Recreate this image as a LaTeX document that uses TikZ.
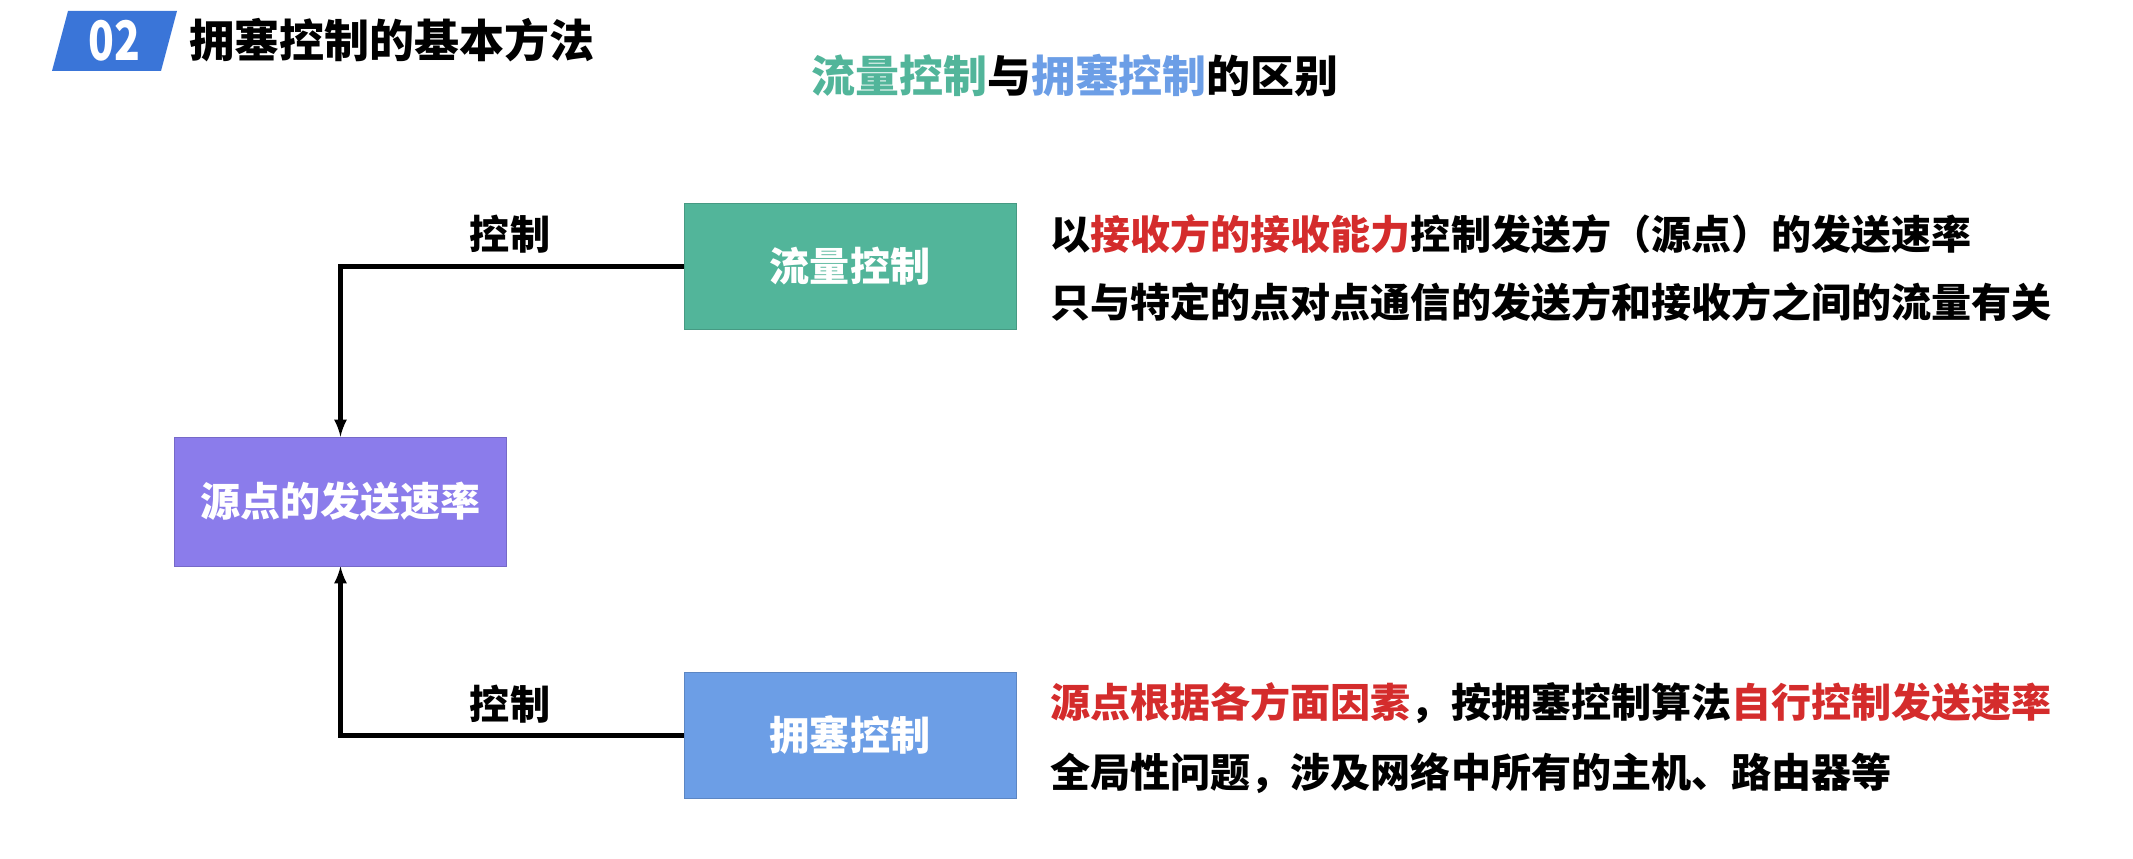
\documentclass[tikz,border=0pt]{standalone}
\usepackage{xcolor}
\usepackage{fontspec}
\setmainfont{Noto Sans CJK SC}
\usepackage{tikz}
\usetikzlibrary{arrows,positioning,backgrounds}
\pgfdeclarelayer{edgelayer}
\pgfdeclarelayer{nodelayer}
\pgfsetlayers{background,edgelayer,nodelayer,main}
\definecolor{flowgreen}{RGB}{82,181,154}
\definecolor{jamblue}{RGB}{108,158,230}
\definecolor{ratepurple}{RGB}{139,124,235}
\definecolor{badgeblue}{RGB}{58,117,216}
\definecolor{keyred}{RGB}{212,44,44}
\newcommand{\bigcjk}{\fontsize{22.8}{27}\selectfont\bfseries}
\tikzstyle{none}=[inner sep=0mm]
\tikzstyle{box}=[shape=rectangle,minimum width=6.64cm,minimum height=2.52cm,inner sep=0pt,text=white,font=\bigcjk]
\tikzstyle{gbox}=[box,fill=flowgreen,draw=flowgreen!85!black]
\tikzstyle{bbox}=[box,fill=jamblue,draw=jamblue!85!black]
\tikzstyle{pbox}=[box,fill=ratepurple,draw=ratepurple!85!black,minimum height=2.58cm]
\tikzstyle{lbl}=[none,font=\bigcjk]
\tikzstyle{txt}=[none,anchor=west,font=\bigcjk]
\tikzstyle{diredge}=[-latex,line width=2.3pt]

\begin{document}
\begin{tikzpicture}
	\useasboundingbox (0, 0) rectangle (42.66, 17.16);
	\begin{pgfonlayer}{background}
		\fill [badgeblue] (1.36, 16.94) -- (3.54, 16.94) -- (3.22, 15.74) -- (1.04, 15.74) -- cycle;
	\end{pgfonlayer}
	\begin{pgfonlayer}{nodelayer}
		\node [style=none, text=white, font=\fontsize{31}{34}\selectfont\bfseries] (num) at (2.28, 16.34) {\scalebox{0.78}[1]{02}};
		\node [style=none, anchor=west, font=\fontsize{25.6}{30}\selectfont\bfseries] (title) at (3.78, 16.36) {拥塞控制的基本方法};
		\node [style=none, font=\fontsize{25}{30}\selectfont\bfseries] (sub) at (21.5, 15.64) {\textcolor{flowgreen}{流量控制}与\textcolor{jamblue}{拥塞控制}的区别};
		\node [style=gbox] (flow) at (17.0, 11.83) {流量控制};
		\node [style=bbox] (jam) at (17.0, 2.45) {拥塞控制};
		\node [style=pbox] (rate) at (6.81, 7.13) {源点的发送速率};
		\node [style=lbl] (c1) at (10.2, 12.48) {控制};
		\node [style=lbl] (c2) at (10.2, 3.08) {控制};
		\node [style=txt] (f1) at (21.0, 12.48) {以\textcolor{keyred}{接收方的接收能力}控制发送方（源点）的发送速率};
		\node [style=txt] (f2) at (21.0, 11.12) {只与特定的点对点通信的发送方和接收方之间的流量有关};
		\node [style=txt] (j1) at (21.0, 3.10) {\textcolor{keyred}{源点根据各方面因素}，按拥塞控制算法\textcolor{keyred}{自行控制发送速率}};
		\node [style=txt] (j2) at (21.0, 1.70) {全局性问题，涉及网络中所有的主机、路由器等};
	\end{pgfonlayer}
	\begin{pgfonlayer}{edgelayer}
		\draw [style=diredge] (flow.west) -| (rate.north);
		\draw [style=diredge] (jam.west) -| (rate.south);
	\end{pgfonlayer}
\end{tikzpicture}
\end{document}
